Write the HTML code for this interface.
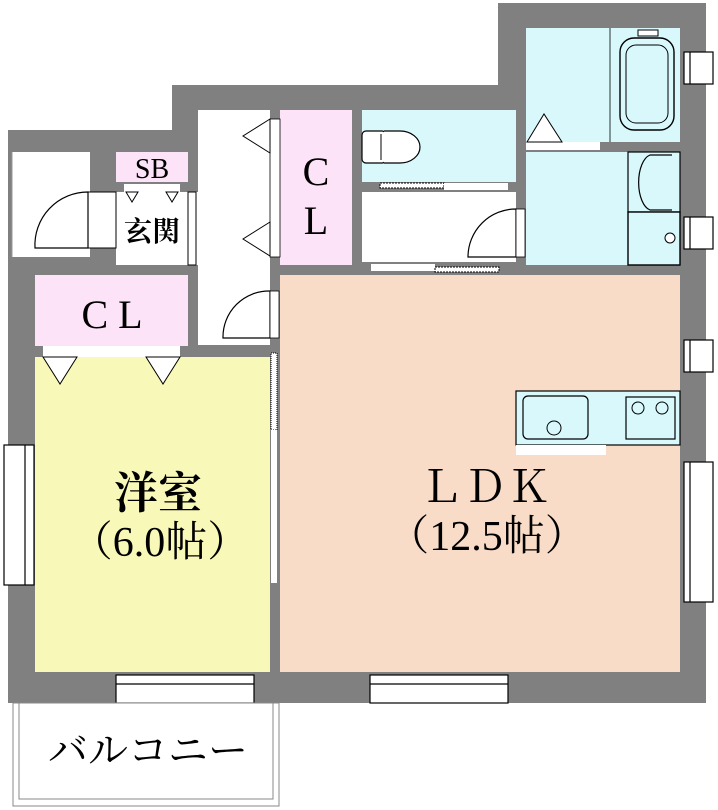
<!DOCTYPE html>
<html><head><meta charset="utf-8"><style>
html,body{margin:0;padding:0;background:#fff;width:718px;height:810px;overflow:hidden}
svg{display:block}
text{font-family:"Liberation Serif","Noto Serif CJK SC",serif;fill:#000}
.b{font-weight:bold}
</style></head><body>
<svg width="718" height="810" viewBox="0 0 718 810">
<polygon points="8,130 172,130 172,85 498,85 498,3 706,3 706,703 8,703" fill="#808080"/>
<rect x="12" y="152" width="78" height="105" fill="#fff"/>
<line x1="12" y1="152" x2="12" y2="257" stroke="#999" stroke-width="1"/>
<rect x="35" y="357" width="235" height="315" fill="#f8f8b8"/>
<rect x="280" y="275" width="400" height="397" fill="#f8dcc8"/>
<rect x="280" y="110" width="72" height="155" fill="#fde3f8"/>
<rect x="35" y="275" width="153" height="71" fill="#fde3f8"/>
<rect x="116" y="152" width="72" height="30" fill="#fde3f8"/>
<rect x="116" y="192" width="82" height="73" fill="#fff"/>
<rect x="198" y="110" width="72" height="235" fill="#fff"/>
<rect x="362" y="110" width="154" height="72" fill="#d8f8fc"/>
<rect x="362" y="192" width="154" height="70" fill="#fff"/>
<rect x="526" y="28" width="154" height="114" fill="#d8f8fc"/>
<rect x="526" y="152" width="154" height="113" fill="#d8f8fc"/>
<rect x="86" y="192" width="30" height="56" fill="#fff" stroke="#000" stroke-width="1"/>
<path d="M35,248 A53,53 0 0 1 88,192 L88,248 Z" fill="#fff" stroke="#000" stroke-width="1.2"/>
<rect x="188" y="192" width="8" height="73" fill="#fff" stroke="#000"/>
<rect x="124" y="184" width="56" height="8" fill="#fff"/>
<polygon points="126,192 138,192 132,202" fill="#fff" stroke="#000"/>
<polygon points="166,192 178,192 172,202" fill="#fff" stroke="#000"/>
<rect x="270" y="119" width="10" height="138" fill="#fff" stroke="#000" stroke-width="0.8"/>
<polygon points="270,119 243,136 270,153" fill="#fff" stroke="#000"/>
<polygon points="270,222 243,239 270,256" fill="#fff" stroke="#000"/>
<path d="M223,338 A46,46 0 0 1 270,291 L270,338 Z" fill="#fff" stroke="#000" stroke-width="1.2"/>
<rect x="270" y="291" width="9" height="47" fill="#fff" stroke="#000" stroke-width="0.8"/>
<rect x="43" y="346" width="137" height="11" fill="#fff"/>
<polygon points="43,357 77,357 60,384" fill="#fff" stroke="#000"/>
<polygon points="146,357 180,357 163,384" fill="#fff" stroke="#000"/>
<rect x="271" y="353" width="6" height="77" fill="#fff" stroke="#000" stroke-dasharray="1,1" stroke-width="1"/>
<rect x="271" y="430" width="6" height="153" fill="#fff"/>
<rect x="362" y="131" width="24" height="32" rx="4" fill="#fff" stroke="#000" stroke-width="1.2"/>
<path d="M384,131 L400,131 A20,16 0 0 1 400,163 L384,163" fill="#fff" stroke="#000" stroke-width="1.2"/>
<line x1="381" y1="134" x2="381" y2="160" stroke="#000"/>
<rect x="380" y="183" width="64" height="5" fill="#fff" stroke="#000" stroke-dasharray="2,1" stroke-width="1"/>
<rect x="444" y="183" width="64" height="7" fill="#fff"/>
<path d="M468,257 A48,48 0 0 1 516,209 L516,257 Z" fill="#fff" stroke="#000" stroke-width="1.2"/>
<rect x="516" y="209" width="9" height="48" fill="#fff" stroke="#000" stroke-width="0.8"/>
<rect x="371" y="264" width="64" height="7" fill="#fff"/>
<rect x="435" y="267" width="64" height="5" fill="#fff" stroke="#000" stroke-dasharray="2,1" stroke-width="1"/>
<line x1="610" y1="28" x2="610" y2="142" stroke="#000" stroke-width="0.8"/>
<rect x="620" y="38" width="54" height="92" rx="14" fill="#d8f8fc" stroke="#000" stroke-width="1.4"/>
<rect x="626" y="45" width="42" height="78" rx="10" fill="#d8f8fc" stroke="#000" stroke-width="1"/>
<rect x="638" y="30" width="20" height="6" fill="#fff" stroke="#000"/>
<rect x="526" y="142" width="74" height="8" fill="#fff"/>
<polygon points="527,142 562,142 544,114" fill="#fff" stroke="#000"/>
<rect x="628" y="152" width="52" height="60" fill="#d8f8fc" stroke="#000" stroke-width="1.2"/>
<path d="M672,155 L650,155 A14,28 0 0 0 650,210 L672,210" fill="#d8f8fc" stroke="#000" stroke-width="1.2"/>
<rect x="628" y="212" width="52" height="53" fill="#d8f8fc" stroke="#000" stroke-width="1.4"/>
<circle cx="670" cy="238" r="5" fill="#fff" stroke="#000"/>
<rect x="516" y="391" width="164" height="54" fill="#d8f8fc" stroke="#000" stroke-width="1.2"/>
<rect x="523" y="396" width="65" height="43" rx="5" fill="#d8f8fc" stroke="#000" stroke-width="1.2"/>
<circle cx="554" cy="428" r="7" fill="#d8f8fc" stroke="#000"/>
<rect x="626" y="397" width="49" height="42" fill="#d8f8fc" stroke="#000" stroke-width="1.2"/>
<circle cx="638" cy="408" r="6" fill="none" stroke="#000"/>
<circle cx="662" cy="408" r="6" fill="none" stroke="#000"/>
<rect x="516" y="445" width="90" height="10" fill="#fff"/>
<g fill="#fff" stroke="#000" stroke-width="1.2">
<rect x="116" y="675" width="138" height="28"/><line x1="116" y1="684" x2="254" y2="684"/>
<rect x="370" y="675" width="138" height="28"/><line x1="370" y1="684" x2="508" y2="684"/>
<rect x="4" y="445" width="30" height="140"/><line x1="25" y1="445" x2="25" y2="585"/>
<rect x="684" y="462" width="29" height="140"/><line x1="690" y1="462" x2="690" y2="602"/>
<rect x="684" y="52" width="29" height="32"/><line x1="690" y1="52" x2="690" y2="84"/>
<rect x="684" y="217" width="29" height="32"/><line x1="690" y1="217" x2="690" y2="249"/>
<rect x="684" y="340" width="29" height="32"/><line x1="690" y1="340" x2="690" y2="372"/>
</g>
<rect x="13" y="703" width="266" height="103" fill="#fff" stroke="#888" stroke-width="1"/>
<rect x="19" y="703" width="254" height="96" fill="none" stroke="#888" stroke-width="1"/>
<text x="152" y="178" font-size="28" text-anchor="middle">SB</text>
<text x="152" y="241" font-size="28" text-anchor="middle" class="b">玄関</text>
<text x="316" y="185" font-size="40" text-anchor="middle">C</text>
<text x="316" y="234" font-size="40" text-anchor="middle">L</text>
<text x="112" y="328" font-size="40" text-anchor="middle">C L</text>
<text x="158" y="508" font-size="44" text-anchor="middle" class="b">洋室</text>
<text x="160" y="556" font-size="42" text-anchor="middle">（6.0帖）</text>
<text x="485" y="502" font-size="44" text-anchor="middle">ＬＤＫ</text>
<text x="487" y="550" font-size="42" text-anchor="middle">（12.5帖）</text>
<text x="148" y="764" font-size="40" text-anchor="middle">バルコニー</text>
</svg>
</body></html>
